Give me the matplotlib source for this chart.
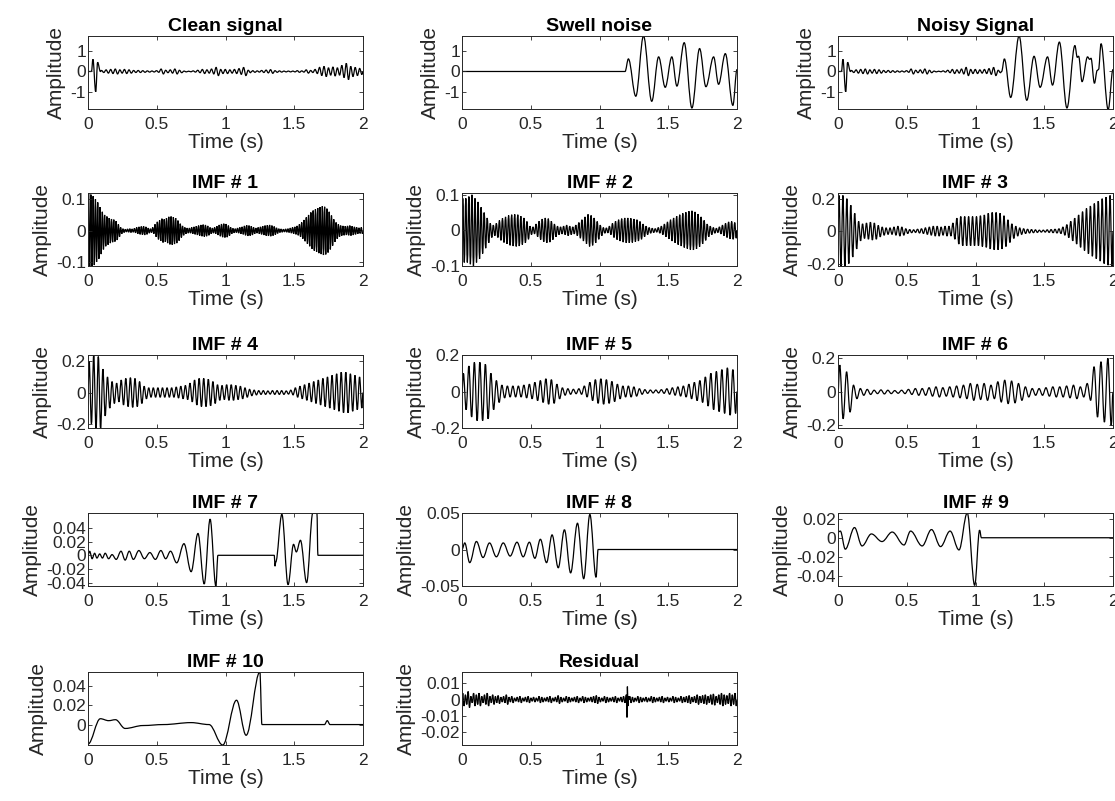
import numpy as np
import matplotlib
matplotlib.use('Agg')
import matplotlib.pyplot as plt
from matplotlib.path import Path
from matplotlib.patches import PathPatch
from matplotlib.ticker import FuncFormatter

plt.rcParams['font.family'] = ['Liberation Sans', 'DejaVu Sans']
plt.rcParams['axes.unicode_minus'] = False

# --- Werte ---
time_ticks = [0, 0.5, 1, 1.5, 2]

# Clean signal: Anfang (Spitze) explizit, danach Schwingungsamplituden pro Periode
clean_start_t = [0, 0.025, 0.036, 0.056, 0.07, 0.09]
clean_start_y = [0, 0, 0.6, -1.0, 0.45, 0]
clean_amps_a = [0.05, 0.08, 0.1,
                0.12, 0.08, 0.1,
                0.08, 0.05, 0.05,
                0.04, 0.03, 0.025,
                0.04, 0.12, 0.06,
                0.08, 0.12, 0.06,
                0.02, 0.015, 0.03,
                0.06, 0.1, 0.08,
                0.12, 0.2, 0.1,
                0.1, 0.08, 0.1,
                0.14, 0.2, 0.06]
clean_amps_b = [0.04, 0.03, 0.05,
                0.07, 0.09, 0.04,
                0.03, 0.02, 0.02,
                0.02, 0.04, 0.03,
                0.08, 0.05, 0.1,
                0.2, 0.25, 0.18,
                0.22, 0.18, 0.3,
                0.4, 0.25, 0.2, 0.15]

# Swell noise (Extrema)
swell_t = [0, 1.186, 1.21, 1.264, 1.32, 1.38, 1.43, 1.478, 1.526, 1.563,
           1.616, 1.672, 1.728, 1.774, 1.83, 1.866, 1.915, 1.97, 2.0]
swell_y = [0, 0, 0.62, -1.22, 1.75, -1.47, 0.72, -0.78, 0.72, -0.72,
           1.42, -1.8, 1.13, -0.75, 0.72, -0.63, 0.88, -1.67, 0.1]

# Noisy signal ab 1.19 s (davor identisch mit clean signal)
noisy_tail_t = [1.19, 1.21, 1.256, 1.317, 1.373, 1.426, 1.47, 1.524, 1.56,
                1.61, 1.665, 1.723, 1.74, 1.75, 1.775, 1.815, 1.83, 1.84,
                1.865, 1.885, 1.895, 1.913, 1.965, 2.0]
noisy_tail_y = [0, 0.62, -1.28, 1.75, -1.42, 0.75, -0.78, 0.72, -0.67,
                1.45, -1.8, 1.28, 0.7, 0.75, -0.5, 0.72, 0.6, 0.65,
                -0.58, 0.05, 0.1, 1.37, -1.88, 0.1]

imf1_amps = [0.12, 0.115, 0.11, 0.1, 0.09, 0.075,
             0.06, 0.05, 0.045, 0.04, 0.037, 0.035,
             0.03, 0.02, 0.01, 0.006, 0.004, 0.005,
             0.006, 0.005, 0.007, 0.01, 0.012, 0.013,
             0.014, 0.012, 0.008, 0.006, 0.01, 0.02,
             0.028, 0.033, 0.038, 0.036, 0.04, 0.044,
             0.045, 0.043, 0.04, 0.032, 0.022, 0.015,
             0.01, 0.008, 0.008, 0.01, 0.012, 0.014,
             0.016, 0.018, 0.019, 0.018, 0.015, 0.01,
             0.008, 0.01, 0.014, 0.018, 0.021, 0.022,
             0.021, 0.016, 0.01, 0.007, 0.006, 0.008,
             0.01, 0.012, 0.015, 0.017, 0.016, 0.014,
             0.01, 0.008, 0.01, 0.012, 0.014, 0.016,
             0.017, 0.018, 0.016, 0.013, 0.009, 0.006,
             0.005, 0.004, 0.005, 0.006, 0.008, 0.01,
             0.012, 0.015, 0.02, 0.026, 0.034, 0.042,
             0.05, 0.058, 0.064, 0.068, 0.072, 0.075,
             0.078, 0.076, 0.07, 0.06, 0.048, 0.036,
             0.026, 0.02, 0.016, 0.015, 0.014, 0.015,
             0.016, 0.014, 0.012, 0.01, 0.009, 0.01]

imf2_amps = [0.09, 0.09, 0.095, 0.1, 0.09, 0.08, 0.065, 0.05, 0.035,
             0.02, 0.015, 0.02, 0.028, 0.034, 0.038, 0.042, 0.044, 0.045,
             0.044, 0.04, 0.035, 0.025, 0.012, 0.01, 0.018, 0.026, 0.032,
             0.035, 0.033, 0.026, 0.018, 0.012, 0.01, 0.012, 0.015, 0.012,
             0.01, 0.015, 0.022, 0.03, 0.038, 0.045, 0.042, 0.035, 0.025,
             0.015, 0.008, 0.007, 0.012, 0.02, 0.026, 0.03, 0.033, 0.035,
             0.035, 0.034, 0.032, 0.03, 0.025, 0.018, 0.012, 0.008, 0.006,
             0.005, 0.008, 0.012, 0.018, 0.024, 0.03, 0.035, 0.04, 0.044,
             0.048, 0.051, 0.054, 0.055, 0.052, 0.046, 0.038, 0.028, 0.018,
             0.012, 0.008, 0.006, 0.01, 0.015, 0.02, 0.024, 0.025, 0.022]

imf3_amps = [0.22, 0.22, 0.2, 0.16, 0.11, 0.06, 0.045,
             0.05, 0.055, 0.05, 0.035, 0.025, 0.02, 0.02,
             0.025, 0.03, 0.025, 0.015, 0.01, 0.008, 0.012,
             0.015, 0.02, 0.025, 0.03, 0.03, 0.025, 0.03,
             0.03, 0.05, 0.08, 0.09, 0.09, 0.09, 0.09,
             0.09, 0.095, 0.1, 0.11, 0.115, 0.115, 0.11,
             0.095, 0.07, 0.045, 0.03, 0.02, 0.015, 0.012,
             0.01, 0.008, 0.006, 0.006, 0.008, 0.01, 0.012,
             0.015, 0.025, 0.04, 0.06, 0.08, 0.1, 0.12,
             0.14, 0.155, 0.17, 0.185, 0.2, 0.21, 0.22]

imf4_amps = [0.2, 0.24, 0.23, 0.15, 0.1, 0.07, 0.06, 0.08, 0.09,
             0.095, 0.09, 0.07, 0.04, 0.03, 0.03, 0.03, 0.03, 0.03,
             0.03, 0.035, 0.04, 0.045, 0.06, 0.08, 0.09, 0.09, 0.085,
             0.07, 0.05, 0.045, 0.05, 0.05, 0.045, 0.04, 0.03, 0.02,
             0.015, 0.012, 0.012, 0.01, 0.012, 0.012, 0.012, 0.01, 0.015,
             0.03, 0.04, 0.05, 0.06, 0.07, 0.08, 0.09, 0.1, 0.11,
             0.12, 0.13, 0.13, 0.12, 0.11, 0.1]

imf5_amps = [0.1, 0.14, 0.16, 0.16, 0.15,
             0.1, 0.06, 0.035, 0.03, 0.03,
             0.03, 0.035, 0.04, 0.05, 0.06,
             0.07, 0.065, 0.04, 0.02, 0.015,
             0.012, 0.015, 0.03, 0.05, 0.065,
             0.07, 0.065, 0.055, 0.04, 0.03,
             0.03, 0.025, 0.015, 0.01, 0.008,
             0.008, 0.01, 0.015, 0.02, 0.025,
             0.03, 0.04, 0.05, 0.06, 0.08,
             0.1, 0.11, 0.12, 0.13, 0.12]

imf6_amps = [0.16, 0.12, 0.04, 0.02, 0.015, 0.01, 0.012, 0.01, 0.008, 0.01,
             0.015, 0.02, 0.02, 0.025, 0.03, 0.025, 0.03, 0.035, 0.04, 0.05,
             0.045, 0.05, 0.04, 0.06, 0.07, 0.065, 0.05, 0.03, 0.02, 0.02,
             0.025, 0.03, 0.03, 0.035, 0.04, 0.03, 0.05, 0.15, 0.18, 0.2]

imf7_t = [0, 0.012, 0.03, 0.048, 0.065, 0.085, 0.105, 0.125, 0.15, 0.175,
          0.205, 0.24, 0.27, 0.3, 0.33, 0.37, 0.41, 0.45, 0.49, 0.53, 0.565,
          0.6, 0.645, 0.698, 0.75, 0.8, 0.845, 0.888, 0.93, 0.945, 1.355,
          1.36, 1.365, 1.41, 1.455, 1.495, 1.515, 1.545, 1.59, 1.635, 1.665,
          1.672, 2.0]
imf7_y = [0, 0.006, -0.005, 0.003, -0.004, 0.002, -0.004, 0.003, -0.005,
          0.001, -0.006, 0.006, -0.007, 0.006, -0.006, 0.007, -0.005, 0.004,
          -0.006, 0.007, -0.005, 0.006, -0.011, 0.017, -0.024, 0.032, -0.042,
          0.053, -0.045, 0, 0, -0.016, -0.01, 0.06, -0.043, 0.016, 0.005,
          0.022, -0.04, 0.062, 0.062, 0, 0]

imf8_t = [0, 0.02, 0.056, 0.105, 0.153, 0.2, 0.25, 0.3, 0.35, 0.4, 0.445,
          0.49, 0.53, 0.57, 0.615, 0.655, 0.7, 0.745, 0.79, 0.84, 0.885,
          0.93, 0.975, 0.99, 2.0]
imf8_y = [0, 0.009, -0.018, 0.011, -0.011, 0.009, -0.01, 0.009, -0.009,
          0.01, -0.01, 0.01, -0.012, 0.014, -0.018, 0.02, -0.025, 0.027,
          -0.032, 0.036, -0.04, 0.048, -0.038, 0, 0]

imf9_t = [0, 0.017, 0.053, 0.12, 0.175, 0.243, 0.32, 0.394, 0.48, 0.528,
          0.612, 0.68, 0.746, 0.815, 0.88, 0.94, 0.994, 1.03, 1.043, 2.0]
imf9_y = [0.006, 0.007, -0.012, 0.0107, -0.0086, 0.004, -0.004, 0.006,
          -0.0076, 0.007, -0.0086, 0.0086, -0.0093, 0.007, -0.0128, 0.026,
          -0.05, 0.008, 0, 0]

imf10_t = [0, 0.09, 0.15, 0.2, 0.27, 0.4, 0.55, 0.75, 0.88, 0.98, 1.08,
           1.15, 1.25, 1.265, 1.72, 1.74, 1.76, 2.0]
imf10_y = [-0.02, 0.006, 0.004, 0.005, -0.004, -0.001, 0, 0.002, 0,
           -0.021, 0.025, -0.011, 0.054, 0, 0, 0.004, 0, 0]

res_amps_a = [0.004, 0.003, 0.005, 0.002, 0.004, 0.003, 0.004, 0.002, 0.003, 0.004,
              0.002, 0.003, 0.002, 0.0025, 0.0015, 0.002, 0.003, 0.0015, 0.002, 0.001,
              0.0015, 0.002, 0.001, 0.0015, 0.002, 0.001, 0.0015, 0.001, 0.002, 0.0015,
              0.001, 0.0015, 0.002, 0.001, 0.0015, 0.0025, 0.0015, 0.001, 0.002, 0.0015,
              0.001, 0.0015, 0.002, 0.001, 0.002, 0.0015, 0.001, 0.0015, 0.002, 0.0025,
              0.0015, 0.001, 0.002, 0.0015, 0.001, 0.0015, 0.002, 0.001, 0.0015, 0.002]
res_spike_t = [1.19, 1.195, 1.2, 1.203, 1.207, 1.212, 1.215]
res_spike_y = [0, 0.003, -0.011, 0.008, -0.004, 0.002, 0]
res_amps_b = [0.002, 0.0015, 0.001, 0.002, 0.0015, 0.001, 0.0015, 0.001, 0.002, 0.0015,
              0.001, 0.0015, 0.002, 0.001, 0.0015, 0.001, 0.002, 0.0015, 0.001, 0.002,
              0.0015, 0.002, 0.0025, 0.0015, 0.002, 0.003, 0.002, 0.0025, 0.003, 0.002,
              0.003, 0.0035, 0.002, 0.003, 0.004, 0.003, 0.0025, 0.004, 0.003, 0.004]


def wave(t0, t1, amps):
    # eine Periode pro Amplitude: Maximum +a, Minimum -a
    n = len(amps)
    edges = np.linspace(t0, t1, 2 * n + 1)
    tm = (edges[:-1] + edges[1:]) / 2
    vals = np.ravel([[a, -a] for a in amps])
    return list(np.concatenate([[t0], tm, [t1]])), list(np.concatenate([[0], vals, [0]]))


def join(*parts):
    t, y = [], []
    for pt, py in parts:
        t += list(pt)
        y += list(py)
    return t, y


def curve(ax, t, y):
    # glatte Linie durch die Extrema (horizontale Tangenten)
    verts = [(t[0], y[0])]
    codes = [Path.MOVETO]
    for i in range(1, len(t)):
        dt = t[i] - t[i - 1]
        verts += [(t[i - 1] + 0.36 * dt, y[i - 1]), (t[i] - 0.36 * dt, y[i]), (t[i], y[i])]
        codes += [Path.CURVE4] * 3
    ax.add_patch(PathPatch(Path(verts, codes), fill=False, lw=0.9, edgecolor='k'))


clean_head = join((clean_start_t, clean_start_y), wave(0.09, 1.19, clean_amps_a))
clean = join(clean_head, wave(1.19, 2.0, clean_amps_b))
noisy = join(clean_head, (noisy_tail_t, noisy_tail_y))
residual = join(wave(0, 1.19, res_amps_a), (res_spike_t, res_spike_y),
                wave(1.215, 2.0, res_amps_b))

panels = [
    ('Clean signal', clean, (-1.85, 1.75), [-1, 0, 1], 0, 0),
    ('Swell noise', (swell_t, swell_y), (-1.85, 1.75), [-1, 0, 1], 0, 1),
    ('Noisy Signal', noisy, (-1.85, 1.75), [-1, 0, 1], 0, 2),
    ('IMF # 1', wave(0, 2, imf1_amps), (-0.113, 0.12), [-0.1, 0, 0.1], 1, 0),
    ('IMF # 2', wave(0, 2, imf2_amps), (-0.1, 0.105), [-0.1, 0, 0.1], 1, 1),
    ('IMF # 3', wave(0, 2, imf3_amps), (-0.215, 0.235), [-0.2, 0, 0.2], 1, 2),
    ('IMF # 4', wave(0, 2, imf4_amps), (-0.227, 0.24), [-0.2, 0, 0.2], 2, 0),
    ('IMF # 5', wave(0, 2, imf5_amps), (-0.2, 0.2), [-0.2, 0, 0.2], 2, 1),
    ('IMF # 6', wave(0, 2, imf6_amps), (-0.215, 0.22), [-0.2, 0, 0.2], 2, 2),
    ('IMF # 7', (imf7_t, imf7_y), (-0.045, 0.062), [-0.04, -0.02, 0, 0.02, 0.04], 3, 0),
    ('IMF # 8', (imf8_t, imf8_y), (-0.05, 0.05), [-0.05, 0, 0.05], 3, 1),
    ('IMF # 9', (imf9_t, imf9_y), (-0.0507, 0.026), [-0.04, -0.02, 0, 0.02], 3, 2),
    ('IMF # 10', (imf10_t, imf10_y), (-0.021, 0.054), [0, 0.02, 0.04], 4, 0),
    ('Residual', residual, (-0.028, 0.017), [-0.02, -0.01, 0, 0.01], 4, 1),
]

W, H = 1115, 801
col_left = [88, 462, 838]
row_top = [36, 193, 355, 513, 672]
ax_w, ax_h = 275, 73
grey = '#262626'
fmt = FuncFormatter(lambda v, p: '%g' % v)

fig = plt.figure(figsize=(W / 100, H / 100), dpi=100)
for title, (t, y), ylim, yticks, r, c in panels:
    ax = fig.add_axes([col_left[c] / W, 1 - (row_top[r] + ax_h) / H, ax_w / W, ax_h / H])
    curve(ax, t, y)
    ax.set_xlim(0, 2)
    ax.set_ylim(ylim)
    ax.set_xticks(time_ticks)
    ax.set_yticks(yticks)
    ax.xaxis.set_major_formatter(fmt)
    ax.yaxis.set_major_formatter(fmt)
    ax.tick_params(direction='in', length=3, width=0.6, top=True, right=True,
                   labelsize=12.5, colors=grey)
    ax.tick_params(axis='x', pad=6)
    ax.tick_params(axis='y', pad=1.5)
    for s in ax.spines.values():
        s.set_linewidth(0.7)
        s.set_color(grey)
    ax.set_title(title, fontsize=14, fontweight='bold', pad=3.5)
    ax.set_xlabel('Time (s)', fontsize=15, labelpad=0.5, color=grey)
    ax.set_ylabel('Amplitude', fontsize=15, labelpad=3, color=grey)

fig.savefig('out.png', dpi=100)
